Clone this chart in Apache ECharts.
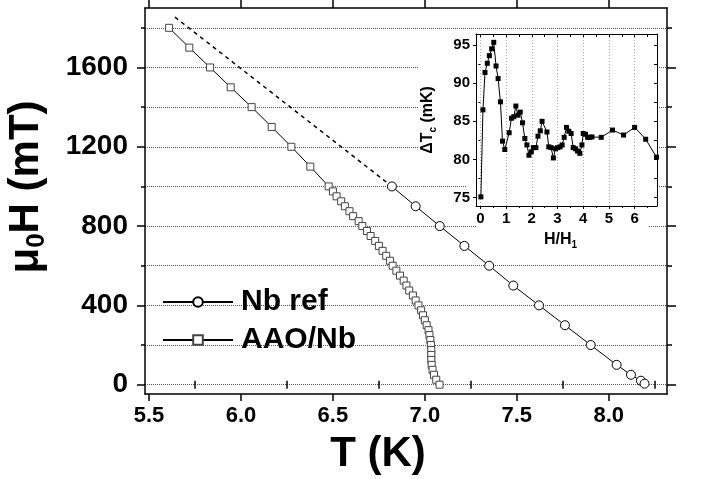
<!DOCTYPE html>
<html><head><meta charset="utf-8">
<script src="https://cdn.jsdelivr.net/npm/echarts@6/dist/echarts.min.js"></script>
<style>html,body{margin:0;padding:0;background:#fff}#c{width:701px;height:479px}</style>
</head><body><div id="c"></div>
<script>
// ---- data ----
const nbT = [6.821, 6.950, 7.081, 7.215, 7.350, 7.481, 7.621, 7.762, 7.902, 8.043, 8.121, 8.175, 8.195];
const nbH = [1000, 900, 800, 700, 600, 500, 400, 300, 200, 100, 50, 20, 5];
const aaoT = [5.609, 5.719, 5.832, 5.944, 6.058, 6.167, 6.274, 6.377, 6.477,
  6.50, 6.52, 6.545, 6.565, 6.59, 6.61, 6.64, 6.66, 6.685, 6.705, 6.73, 6.75, 6.77, 6.79, 6.81, 6.825,
  6.845, 6.865, 6.885, 6.90, 6.915, 6.935, 6.95, 6.965, 6.98, 6.99, 7.00, 7.01, 7.02, 7.025, 7.03, 7.033,
  7.035, 7.035, 7.035, 7.037, 7.042, 7.05, 7.062, 7.08];
const aaoH = [1800, 1700, 1600, 1500, 1400, 1300, 1200, 1100, 1000,
  975, 950, 925, 900, 875, 850, 825, 800, 775, 750, 725, 700, 675, 650, 625, 600,
  575, 550, 525, 500, 475, 450, 425, 400, 375, 350, 325, 300, 275, 250, 225, 200,
  175, 150, 125, 100, 75, 50, 25, 0];
const extT = [5.641, 6.821];
const extH = [1854, 1000];
const insetX = [0.02, 0.10, 0.18, 0.27, 0.35, 0.44, 0.52, 0.61, 0.69, 0.78, 0.86, 0.95, 1.12, 1.21, 1.30, 1.38, 1.46, 1.55, 1.64, 1.73, 1.81, 1.89, 1.98, 2.06, 2.16, 2.24, 2.33, 2.40, 2.59, 2.66, 2.75, 2.84, 2.92, 3.01, 3.10, 3.18, 3.26, 3.35, 3.44, 3.53, 3.61, 3.70, 3.78, 3.87, 3.95, 4.00, 4.09, 4.17, 4.25, 4.34, 4.70, 5.14, 5.57, 6.00, 6.43, 6.85];
const insetY = [75.1, 86.5, 91.4, 92.6, 93.6, 94.5, 95.35, 92.25, 90.6, 87.55, 82.4, 81.3, 83.5, 85.4, 85.6, 87.0, 85.8, 86.2, 84.8, 82.75, 81.9, 80.55, 81.0, 81.55, 81.55, 83.05, 83.75, 85.0, 83.6, 81.65, 81.55, 80.2, 81.4, 81.55, 81.65, 81.9, 82.9, 84.2, 83.7, 83.4, 81.55, 81.4, 81.1, 80.8, 81.9, 83.4, 83.3, 82.9, 82.9, 82.95, 82.9, 83.85, 83.2, 84.2, 82.65, 80.3];
const xMajor = [5.5, 6.0, 6.5, 7.0, 7.5, 8.0];
const xMinor = [5.75, 6.25, 6.75, 7.25, 7.75, 8.25];
const yMajor = [0, 400, 800, 1200, 1600];
const yMinor = [200, 600, 1000, 1400, 1800];
const ixMajor = [0, 1, 2, 3, 4, 5, 6];
const ixMinor = [0.5, 1.5, 2.5, 3.5, 4.5, 5.5, 6.5];
const iyMajor = [75, 80, 85, 90, 95];
const iyMinor = [77.5, 82.5, 87.5, 92.5];

const FF = '"Liberation Sans", Arial, Helvetica, sans-serif';
const K = '#000';
const zip = (a, b) => a.map((v, i) => [v, b[i]]);

function xa(opts) {
  return Object.assign({
    type: 'value', gridIndex: 0, min: 5.478, max: 8.317,
    axisLine: { show: false, lineStyle: { color: K, width: 1.5 } },
    axisTick: { show: true, inside: false, length: 7, lineStyle: { color: K, width: 1.5 } },
    axisLabel: { show: false }, splitLine: { show: false }
  }, opts);
}
function ya(opts) {
  return Object.assign({
    type: 'value', gridIndex: 0, min: -47, max: 1900,
    axisLine: { show: false, lineStyle: { color: K, width: 1.5 } },
    axisTick: { show: true, inside: false, length: 8, lineStyle: { color: K, width: 1.5 } },
    axisLabel: { show: false }, splitLine: { show: false }
  }, opts);
}
function ixa(opts) {
  return Object.assign({
    type: 'value', gridIndex: 1, min: -0.17, max: 6.87, z: 5,
    axisLine: { show: false, lineStyle: { color: K, width: 1 } },
    axisTick: { show: true, inside: false, length: 3, lineStyle: { color: K, width: 1 } },
    axisLabel: { show: false }, splitLine: { show: false }
  }, opts);
}
function iya(opts) {
  return Object.assign({
    type: 'value', gridIndex: 1, min: 73.9, max: 96.44, z: 5,
    axisLine: { show: false, lineStyle: { color: K, width: 1 } },
    axisTick: { show: true, inside: false, length: 3, lineStyle: { color: K, width: 1 } },
    axisLabel: { show: false }, splitLine: { show: false }
  }, opts);
}
const gridDot = { show: true, lineStyle: { color: '#555', width: 1, type: [1, 1] } };

const chart = echarts.init(document.getElementById('c'), null, { renderer: 'canvas' });
chart.setOption({
  animation: false,
  backgroundColor: '#fff',
  textStyle: { fontFamily: FF },
  grid: [
    { left: 145, top: 8, right: 34, bottom: 85, containLabel: false, outerBoundsMode: 'none' },
    { left: 476, top: 34, width: 181, height: 172, show: true, backgroundColor: '#fff', borderWidth: 0, z: 3,
      containLabel: false, outerBoundsMode: 'none' }
  ],
  legend: {
    orient: 'vertical', left: 162, top: 287, padding: 0, itemWidth: 70, itemHeight: 12, itemGap: 8,
    data: ['Nb ref', 'AAO/Nb'],
    textStyle: { fontFamily: FF, fontSize: 30, fontWeight: 'bold', color: K, padding: [0, 0, 0, 3] }
  },
  graphic: [
    { type: 'rect', z: 1, shape: { x: 418, y: 32, width: 58, height: 150 }, style: { fill: '#fff' } },
    { type: 'rect', z: 1, shape: { x: 466, y: 180, width: 12, height: 30 }, style: { fill: '#fff' } },
    { type: 'rect', z: 1, shape: { x: 476, y: 206, width: 173, height: 42 }, style: { fill: '#fff' } }
  ],
  xAxis: [
    xa({ position: 'bottom', axisLine: { show: true, onZero: false, lineStyle: { color: K, width: 1.5 } },
      axisTick: { show: true, length: 7, customValues: xMajor, lineStyle: { color: K, width: 1.5 } },
      axisLabel: { show: true, customValues: xMajor, margin: 11, fontSize: 22, fontWeight: 'bold', color: K, fontFamily: FF,
        formatter: v => v.toFixed(1) },
      name: 'T (K)', nameLocation: 'middle', nameGap: 39,
      nameTextStyle: { fontSize: 42, fontWeight: 'bold', color: K, fontFamily: FF, padding: [0, 56, 0, 0] } }),
    xa({ position: 'bottom', axisTick: { show: true, length: 4, customValues: xMinor, lineStyle: { color: K, width: 1.5 } } }),
    xa({ position: 'top', axisLine: { show: true, onZero: false, lineStyle: { color: K, width: 1.5 } },
      axisTick: { show: true, length: 8, customValues: xMajor, lineStyle: { color: K, width: 1.5 } } }),
    xa({ position: 'top', axisTick: { show: true, length: 4, customValues: xMinor, lineStyle: { color: K, width: 1.5 } } }),
    ixa({ position: 'bottom', axisLine: { show: true, onZero: false, lineStyle: { color: K, width: 1 } },
      axisTick: { show: true, length: 3, customValues: ixMajor, lineStyle: { color: K, width: 1 } },
      axisLabel: { show: true, customValues: ixMajor, margin: 5, fontSize: 15, fontWeight: 'bold', color: K, fontFamily: FF },
      splitLine: { show: true, lineStyle: { color: '#aaa', width: 1, type: [1, 2] } },
      name: '{a|H/H}{s|1}', nameLocation: 'middle', nameGap: 24,
      nameTextStyle: { padding: [0, 12, 0, 0], rich: {
        a: { fontSize: 16, fontWeight: 'bold', color: K, fontFamily: FF },
        s: { fontSize: 10, fontWeight: 'bold', color: K, fontFamily: FF, padding: [10, 0, 0, 0] } } } }),
    ixa({ position: 'bottom', axisTick: { show: true, length: 2, customValues: ixMinor, lineStyle: { color: K, width: 1 } } }),
    ixa({ position: 'top', axisLine: { show: true, onZero: false, lineStyle: { color: K, width: 1 } },
      axisTick: { show: true, inside: true, length: 3, customValues: ixMajor.concat(ixMinor), lineStyle: { color: K, width: 1 } } })
  ],
  yAxis: [
    ya({ position: 'left', axisLine: { show: true, onZero: false, lineStyle: { color: K, width: 1.5 } },
      axisTick: { show: true, length: 8, customValues: yMajor, lineStyle: { color: K, width: 1.5 } },
      axisLabel: { show: true, customValues: yMajor, margin: 17, fontSize: 28, fontWeight: 'bold', color: K, fontFamily: FF,
        formatter: v => String(v) },
      splitLine: Object.assign({ customValues: yMajor }, gridDot),
      name: '{a|μ}{s|0}{a|H (mT)}', nameLocation: 'middle', nameGap: 95,
      nameTextStyle: { padding: [0, 0, 0, 28], rich: {
        a: { fontSize: 42, fontWeight: 'bold', color: K, fontFamily: FF },
        s: { fontSize: 26, fontWeight: 'bold', color: K, fontFamily: FF, padding: [22, 0, 0, 0] } } } }),
    ya({ position: 'left', axisTick: { show: true, length: 4, customValues: yMinor, lineStyle: { color: K, width: 1.5 } },
      splitLine: gridDot }),
    ya({ position: 'right', axisLine: { show: true, onZero: false, lineStyle: { color: K, width: 1.5 } },
      axisTick: { show: true, length: 9, customValues: yMajor, lineStyle: { color: K, width: 1.5 } } }),
    ya({ position: 'right', axisTick: { show: true, length: 5, customValues: yMinor, lineStyle: { color: K, width: 1.5 } } }),
    iya({ position: 'left', axisLine: { show: true, onZero: false, lineStyle: { color: K, width: 1 } },
      axisTick: { show: true, length: 3, customValues: iyMajor, lineStyle: { color: K, width: 1 } },
      axisLabel: { show: true, customValues: iyMajor, margin: 6, fontSize: 15, fontWeight: 'bold', color: K, fontFamily: FF },
      name: '{a|ΔT}{s|c}{a| (mK)}', nameLocation: 'middle', nameGap: 38,
      nameTextStyle: { rich: {
        a: { fontSize: 16, fontWeight: 'bold', color: K, fontFamily: FF },
        s: { fontSize: 10, fontWeight: 'bold', color: K, fontFamily: FF, padding: [10, 0, 0, 0] } } } }),
    iya({ position: 'left', axisTick: { show: true, length: 2, customValues: iyMinor, lineStyle: { color: K, width: 1 } } }),
    iya({ position: 'right', axisLine: { show: true, onZero: false, lineStyle: { color: K, width: 1 } },
      axisTick: { show: true, inside: true, length: 3, customValues: iyMajor.concat(iyMinor), lineStyle: { color: K, width: 1 } } })
  ],
  series: [
    { name: 'extrap', type: 'line', xAxisIndex: 0, yAxisIndex: 0, data: zip(extT, extH), symbol: 'none',
      lineStyle: { color: K, width: 1.5, type: [4, 4] }, z: 2, silent: true },
    { name: 'Nb ref', type: 'line', xAxisIndex: 0, yAxisIndex: 0, data: zip(nbT, nbH), symbol: 'circle', symbolSize: 9,
      lineStyle: { color: K, width: 1 }, itemStyle: { color: '#fff', borderColor: K, borderWidth: 1 }, z: 3 },
    { name: 'AAO/Nb', type: 'line', xAxisIndex: 0, yAxisIndex: 0, data: zip(aaoT, aaoH), symbol: 'rect', symbolSize: 7,
      lineStyle: { color: K, width: 1 }, itemStyle: { color: '#fff', borderColor: '#444', borderWidth: 1 }, z: 3 },
    { name: 'inset', type: 'line', xAxisIndex: 4, yAxisIndex: 4, data: zip(insetX, insetY), symbol: 'rect', symbolSize: 5,
      lineStyle: { color: K, width: 1 }, itemStyle: { color: K }, z: 6 }
  ]
});
</script></body></html>
